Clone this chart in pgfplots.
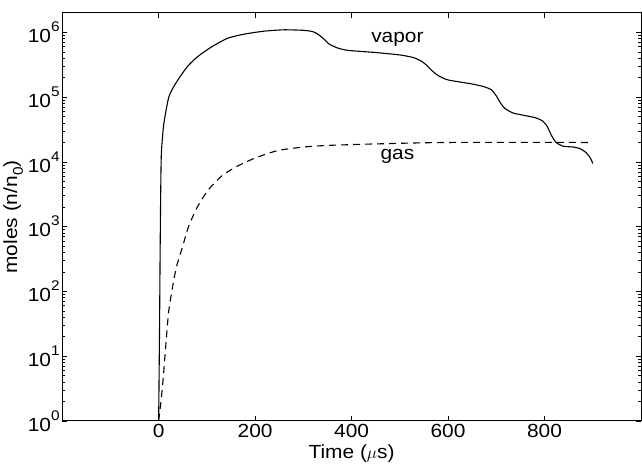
\documentclass[border=0pt]{standalone}
\usepackage{fontspec}
\setmainfont{Liberation Sans}[FakeStretch=1.1]
\usepackage{pgfplots}
\pgfplotsset{compat=1.18}
\newcommand{\tp}[1]{10\raisebox{0.58em}{\fontsize{14}{14}\selectfont #1}}
\begin{document}
\begin{tikzpicture}
\begin{axis}[
  scale only axis,
  width=579pt, height=408pt,
  ymode=log,
  xmin=-200, xmax=1000,
  ymin=1, ymax=2e6,
  xtick={0,200,400,600,800},
  ytick={1,10,100,1000,10000,100000,1000000},
  yticklabels={\tp{0},\tp{1},\tp{2},\tp{3},\tp{4},\tp{5},\tp{6}},
  tick align=inside,
  major tick length=5pt,
  minor tick length=3pt,
  tick style={black, line width=0.7pt},
  axis line style={line width=1pt},
  /pgf/number format/assume math mode=true,
  tick label style={font=\fontsize{19}{21}\selectfont},
  label style={font=\fontsize{19}{21}\selectfont},
  xlabel={Time ($\mu$s)},
  ylabel={moles (n/n\raisebox{-0.3em}{\fontsize{14}{14}\selectfont 0})},
  xlabel style={at={(axis description cs:0.5,0)}, anchor=north, yshift=-20pt},
  ylabel style={yshift=-2pt},
  xticklabel style={yshift=0pt},
  yticklabel style={xshift=1pt},
  clip=false,
]
\addplot[black, line width=1.1pt, smooth, tension=0.4] coordinates {
(0,1) (0.5,2) (1,5) (2,30) (3,300) (4,2000) (5,8000) (6,1.5e4) (10,3.5e4) (15,6e4)
(21,1e5) (30,1.4e5) (41,1.9e5) (60,3e5) (82,4.3e5) (110,6e5) (144,8.2e5)
(180,9.5e5) (220,1.05e6) (260,1.1e6) (300,1.08e6) (320,1.03e6) (332,9.2e5)
(342,8e5) (354,6.6e5) (370,5.8e5) (392,5.3e5) (450,4.9e5) (500,4.5e5)
(528,4.1e5) (545,3.6e5) (556,3.1e5) (566,2.6e5) (580,2.15e5) (600,1.85e5)
(650,1.6e5) (675,1.45e5) (690,1.3e5) (700,1.05e5) (708,8.3e4) (718,6.7e4)
(735,5.7e4) (760,5.2e4) (782,4.8e4) (796,4.3e4) (806,3.5e4) (814,2.6e4)
(824,2e4) (839,1.75e4) (860,1.7e4) (874,1.6e4) (886,1.4e4) (895,1.15e4) (900,9.5e3)
};
\addplot[black, line width=1.1pt, dash pattern=on 7pt off 5pt, smooth, tension=0.4] coordinates {
(0,1) (3,1.5) (6,2.4) (10,5) (15,15) (21,50) (30,130) (37,240) (50,500)
(62,1000) (80,2000) (103,3700) (130,6000) (159,8300) (200,1.15e4)
(247,1.5e4) (300,1.7e4) (350,1.8e4) (450,1.9e4) (600,2e4) (900,2e4)
};
\node[font=\fontsize{19}{21}\selectfont] at (axis cs:495,7.8e5) {vapor};
\node[font=\fontsize{19}{21}\selectfont] at (axis cs:495,1.2e4) {gas};
\end{axis}
\useasboundingbox ([shift={(-62pt,-45pt)}]current axis.south west) rectangle ([shift={(1pt,13pt)}]current axis.north east);
\end{tikzpicture}
\end{document}
